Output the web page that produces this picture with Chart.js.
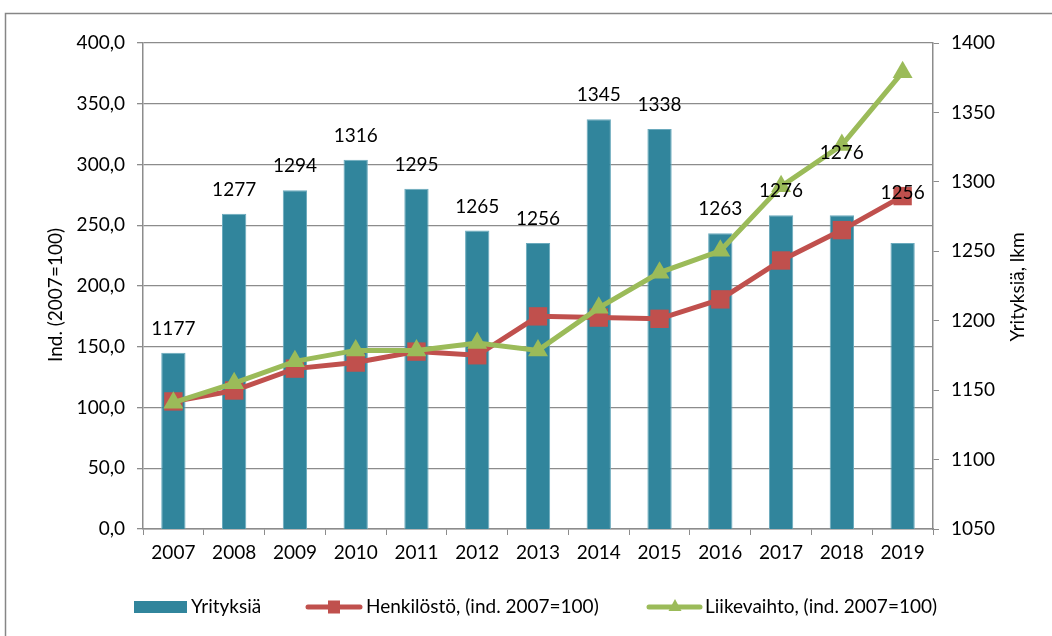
<!DOCTYPE html>
<html>
<head>
<meta charset="utf-8">
<script src="https://cdn.jsdelivr.net/npm/chart.js@4.4.1/dist/chart.umd.min.js"></script>
<style>
    html, body { margin: 0; padding: 0; background: #fff; }
    canvas { display: block; }
</style>
</head>
<body>
<canvas id="chart" width="1052" height="636"></canvas>
<script>
// ===== DATA =====
const years = ['2007', '2008', '2009', '2010', '2011', '2012', '2013', '2014', '2015', '2016', '2017', '2018', '2019'];
const yrityksia = [1177, 1277, 1294, 1316, 1295, 1265, 1256, 1345, 1338, 1263, 1276, 1276, 1256];
const henkilosto = [105, 114, 132, 137, 146, 143, 175, 174, 173, 189, 221, 246, 274];
const liikevaihto = [104, 120, 138, 147, 147, 153, 147, 182, 211, 229, 282, 316, 376];

// how far above the bar top each value label sits (px)
const labelLift = [24, 24, 24, 24, 24, 24, 24, 24, 24, 24, 24, 62, 50];

const FONT = 'Lato, "Open Sans", sans-serif';
const FSIZE = 19;
const GRID = '#8c8c8c';
const BLUE = '#31859c';
const RED = '#c0504d';
const GREEN = '#9bbb59';

// outer frame, axis titles, legend
const decorPlugin = {
    id: 'decor',
    beforeDraw(chart) {
        const ctx = chart.ctx;
        ctx.save();
        ctx.fillStyle = '#fff';
        ctx.fillRect(0, 0, chart.width, chart.height);
        ctx.strokeStyle = '#868686';
        ctx.lineWidth = 1.5;
        ctx.strokeRect(5.5, 13.5, chart.width + 20, chart.height + 20);
        ctx.restore();
    },
    afterDraw(chart) {
        const ctx = chart.ctx;
        ctx.save();
        ctx.font = FSIZE + 'px ' + FONT;
        ctx.fillStyle = '#000';
        ctx.textAlign = 'center';
        ctx.textBaseline = 'middle';

        // axis titles, both read bottom to top
        [[56, 295, 'Ind. (2007=100)'], [1018, 287, 'Yrityksiä, lkm']].forEach(([x, y, txt]) => {
            ctx.save();
            ctx.translate(x, y);
            ctx.rotate(-Math.PI / 2);
            ctx.fillText(txt, 0, 0);
            ctx.restore();
        });

        // legend
        const ly = 607;
        ctx.textAlign = 'left';
        ctx.fillStyle = BLUE;
        ctx.fillRect(134, ly - 6, 53, 12);
        ctx.fillStyle = '#000';
        ctx.fillText('Yrityksiä', 191, ly);

        ctx.strokeStyle = RED;
        ctx.lineWidth = 5;
        ctx.lineCap = 'round';
        ctx.beginPath(); ctx.moveTo(308, ly); ctx.lineTo(360, ly); ctx.stroke();
        ctx.fillStyle = RED;
        ctx.fillRect(328, ly - 6.5, 12, 13);
        ctx.fillStyle = '#000';
        ctx.fillText('Henkilöstö, (ind. 2007=100)', 366, ly);

        ctx.strokeStyle = GREEN;
        ctx.beginPath(); ctx.moveTo(649, ly); ctx.lineTo(700, ly); ctx.stroke();
        ctx.fillStyle = GREEN;
        ctx.beginPath();
        ctx.moveTo(675, ly - 8); ctx.lineTo(681.5, ly + 4); ctx.lineTo(668.5, ly + 4);
        ctx.closePath(); ctx.fill();
        ctx.fillStyle = '#000';
        ctx.fillText('Liikevaihto, (ind. 2007=100)', 705, ly);
        ctx.restore();
    }
};

// value labels on the bars, drawn over the lines
const barLabelPlugin = {
    id: 'barLabels',
    afterDatasetsDraw(chart) {
        const ctx = chart.ctx;
        const meta = chart.getDatasetMeta(2);
        ctx.save();
        ctx.font = FSIZE + 'px ' + FONT;
        ctx.fillStyle = '#000';
        ctx.textAlign = 'center';
        ctx.textBaseline = 'middle';
        meta.data.forEach((bar, i) => {
            ctx.fillText(String(yrityksia[i]), bar.x, bar.y - labelLift[i]);
        });
        ctx.restore();
    }
};

const ctx = document.getElementById('chart').getContext('2d');
new Chart(ctx, {
    data: {
        labels: years,
        datasets: [
            {
                type: 'line',
                label: 'Liikevaihto, (ind. 2007=100)',
                data: liikevaihto,
                yAxisID: 'y',
                borderColor: GREEN,
                backgroundColor: GREEN,
                borderWidth: 5,
                pointStyle: 'triangle',
                pointRadius: 11.5,
                pointBorderWidth: 0,
                tension: 0,
                order: 1
            },
            {
                type: 'line',
                label: 'Henkilöstö, (ind. 2007=100)',
                data: henkilosto,
                yAxisID: 'y',
                borderColor: RED,
                backgroundColor: RED,
                borderWidth: 5,
                pointStyle: 'rect',
                pointRadius: 13,
                pointBorderWidth: 0,
                tension: 0,
                order: 2
            },
            {
                type: 'bar',
                label: 'Yrityksiä',
                data: yrityksia,
                yAxisID: 'y1',
                backgroundColor: BLUE,
                borderColor: '#6aaabd',
                borderWidth: 1,
                barPercentage: 0.4,
                categoryPercentage: 1,
                order: 3
            }
        ]
    },
    options: {
        responsive: false,
        animation: false,
        layout: { padding: { top: 43, left: 0, right: 0, bottom: 0 } },
        plugins: {
            legend: { display: false },
            tooltip: { enabled: false }
        },
        scales: {
            x: {
                offset: true,
                grid: { drawOnChartArea: false, offset: true, color: GRID, tickLength: 6 },
                border: { color: GRID, width: 1.5 },
                ticks: { color: '#000', font: { family: FONT, size: FSIZE }, padding: 6, maxRotation: 0 },
                afterFit(scale) { scale.height = 107; }
            },
            y: {
                position: 'left',
                min: 0,
                max: 400,
                ticks: {
                    stepSize: 50,
                    color: '#000',
                    padding: 12,
                    font: { family: FONT, size: FSIZE },
                    callback: v => v.toFixed(1).replace('.', ',')
                },
                grid: { color: GRID, lineWidth: 1.3, tickLength: 6 },
                border: { color: GRID, width: 1.5 },
                afterFit(scale) { scale.width = 143; }
            },
            y1: {
                position: 'right',
                min: 1050,
                max: 1400,
                ticks: {
                    stepSize: 50,
                    color: '#000',
                    padding: 12,
                    font: { family: FONT, size: FSIZE },
                    callback: v => String(v)
                },
                grid: { drawOnChartArea: false, color: GRID, tickLength: 6 },
                border: { color: GRID, width: 1.5 },
                afterFit(scale) { scale.width = 119; }
            }
        }
    },
    plugins: [decorPlugin, barLabelPlugin]
});
</script>
</body>
</html>
